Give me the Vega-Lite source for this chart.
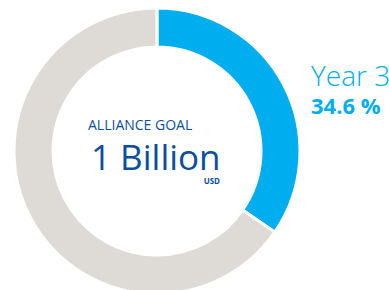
{
  "$schema": "https://vega.github.io/schema/vega-lite/v6.json",
  "width": 314,
  "height": 302,
  "padding": 0,
  "background": "white",
  "config": {"view": {"stroke": null}, "font": "Open Sans"},
  "layer": [
    {
      "data": {"values": [
        {"segment": "Year 3", "value": 34.6},
        {"segment": "Remaining", "value": 65.4}
      ]},
      "mark": {"type": "arc", "outerRadius": 143, "innerRadius": 104, "stroke": "white", "strokeWidth": 3},
      "encoding": {
        "theta": {"field": "value", "type": "quantitative", "stack": true},
        "order": {"field": "segment", "sort": "descending"},
        "color": {"field": "segment", "type": "nominal", "legend": null,
          "scale": {"domain": ["Year 3", "Remaining"], "range": ["#00AEEF", "#DEDBD7"]}}
      }
    },
    {
      "data": {"values": [{"label": "ALLIANCE GOAL"}]},
      "mark": {"type": "text", "align": "left", "baseline": "alphabetic", "dx": -69, "dy": -21, "fontSize": 14, "fontWeight": 500, "color": "#0B4EA2"},
      "encoding": {"text": {"field": "label"}}
    },
    {
      "data": {"values": [{"label": "1 Billion"}]},
      "mark": {"type": "text", "align": "left", "baseline": "alphabetic", "dx": -66, "dy": 19, "fontSize": 35, "color": "#0B4EA2"},
      "encoding": {"text": {"field": "label"}}
    },
    {
      "data": {"values": [{"label": "USD"}]},
      "mark": {"type": "text", "align": "right", "baseline": "alphabetic", "dx": 63, "dy": 33, "fontSize": 8, "fontWeight": "bold", "color": "#0B4EA2"},
      "encoding": {"text": {"field": "label"}}
    },
    {
      "data": {"values": [{"label": "Year 3"}]},
      "mark": {"type": "text", "align": "left", "baseline": "alphabetic", "dx": 154, "dy": -65, "fontSize": 28, "fontWeight": 300, "color": "#00AEEF"},
      "encoding": {"text": {"field": "label"}}
    },
    {
      "data": {"values": [{"label": "34.6 %"}]},
      "mark": {"type": "text", "align": "left", "baseline": "alphabetic", "dx": 154, "dy": -37, "fontSize": 22, "fontWeight": "bold", "color": "#00AEEF"},
      "encoding": {"text": {"field": "label"}}
    }
  ]
}
